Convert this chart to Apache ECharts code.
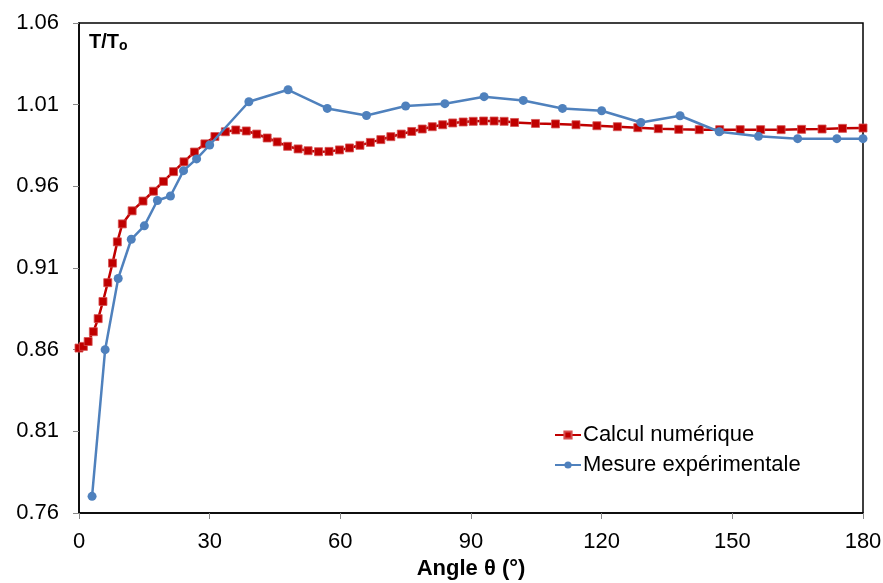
<!doctype html>
<html><head><meta charset="utf-8" />
<style>
  html,body,#app{margin:0;padding:0;width:883px;height:583px;background:#ffffff}
</style>
<script src="https://cdn.jsdelivr.net/npm/echarts@6.0.0/dist/echarts.min.js"></script>
</head><body><div id="app"></div>
<script>
// Calcul numérique : angle (°) / T/To
const calcAngles = [0, 1.0, 2.1, 3.3, 4.4, 5.5, 6.6, 7.7, 8.8, 9.95,
  12.2, 14.7, 17.1, 19.4, 21.7, 24.1, 26.5, 28.9, 31.2, 33.6, 36.0, 38.4,
  40.8, 43.2, 45.5, 47.9, 50.3, 52.6, 55.0, 57.4, 59.8, 62.1, 64.5, 66.9,
  69.3, 71.6, 74.0, 76.4, 78.8, 81.1, 83.5, 85.8, 88.2, 90.5, 92.9, 95.3,
  97.6, 100.0, 104.8, 109.4, 114.1, 118.9, 123.6, 128.3, 133.0, 137.7,
  142.4, 147.1, 151.8, 156.5, 161.2, 165.9, 170.6, 175.3, 180];
const calcValues = [0.861, 0.862, 0.865, 0.871, 0.879, 0.8895, 0.901, 0.913, 0.926, 0.937,
  0.945, 0.951, 0.957, 0.963, 0.969, 0.975, 0.981, 0.986, 0.9905, 0.9934, 0.9945, 0.9939,
  0.9920, 0.9896, 0.9872, 0.9845, 0.9829, 0.9818, 0.9812, 0.9814, 0.9823, 0.9835, 0.9851, 0.9869,
  0.9886, 0.9904, 0.9920, 0.9936, 0.9951, 0.9965, 0.9977, 0.9988, 0.9994, 0.9998, 1.0000, 1.0000,
  0.9998, 0.9991, 0.9985, 0.9982, 0.9977, 0.9971, 0.9965, 0.9959, 0.9953, 0.9949,
  0.9947, 0.9947, 0.9947, 0.9947, 0.9947, 0.9949, 0.9951, 0.9955, 0.9957];
// Mesure expérimentale
const mesAngles = [3, 6, 9, 12, 15, 18, 21, 24, 27, 30, 39, 48, 57, 66, 75, 84, 93, 102,
  111, 120, 129, 138, 147, 156, 165, 174, 180];
const mesValues = [0.7702, 0.860, 0.9036, 0.9276, 0.9358, 0.9513, 0.9541, 0.9696, 0.9768, 0.9853,
  1.0118, 1.0191, 1.0077, 1.0034, 1.0092, 1.0106, 1.0149, 1.0126, 1.0077, 1.0063, 0.9991,
  1.0032, 0.9934, 0.9906, 0.9892, 0.9892, 0.9892];
const yTicks = [0.76, 0.81, 0.86, 0.91, 0.96, 1.01, 1.06];

const pairs = (xs, ys) => xs.map((x, i) => [x, ys[i]]);
const font = "'Liberation Sans', Arial, sans-serif";

const chart = echarts.init(document.getElementById('app'));
chart.setOption({
  backgroundColor: '#ffffff',
  animation: false,
  textStyle: { fontFamily: font },
  grid: { left: 79, right: 20, top: 23, bottom: 70, outerBoundsMode: 'none',
    show: true, borderColor: '#000000', borderWidth: 1.5 },
  title: {
    text: '{a|T/T}{b|o}', left: 84, top: 27,
    textStyle: { rich: {
      a: { fontFamily: font, fontSize: 20, fontWeight: 'bold', color: '#000' },
      b: { fontFamily: font, fontSize: 14, fontWeight: 'bold', color: '#000', verticalAlign: 'bottom', padding: [7, 0, 0, 0] }
    } }
  },
  legend: {
    orient: 'vertical', left: 549, top: 419, itemGap: 8, itemWidth: 26, itemHeight: 9,
    textStyle: { fontFamily: font, fontSize: 22, color: '#000', padding: [0, 0, 0, -3] },
    data: ['Calcul numérique', 'Mesure expérimentale']
  },
  xAxis: {
    type: 'value', min: 0, max: 180, interval: 30,
    name: 'Angle θ (°)', nameLocation: 'middle', nameGap: 45,
    nameTextStyle: { fontFamily: font, fontSize: 22, fontWeight: 'bold', color: '#000' },
    axisLine: { lineStyle: { color: '#000', width: 1.5 } },
    axisTick: { show: true, length: 6, lineStyle: { color: '#888' } },
    axisLabel: { fontFamily: font, fontSize: 22, color: '#000', margin: 18 },
    splitLine: { show: false }
  },
  yAxis: {
    type: 'value', min: 0.76, max: 1.06,
    axisLine: { show: true, lineStyle: { color: '#000', width: 1.5 } },
    axisTick: { show: true, length: 6, lineStyle: { color: '#888' }, customValues: yTicks },
    axisLabel: { fontFamily: font, fontSize: 22, color: '#000', margin: 20, customValues: yTicks,
      formatter: v => Number(v).toFixed(2) },
    splitLine: { show: false }
  },
  series: [
    { name: 'Calcul numérique', type: 'line', data: pairs(calcAngles, calcValues),
      symbol: 'rect', symbolSize: 8, z: 2,
      lineStyle: { color: '#C00000', width: 2.5 },
      itemStyle: { color: '#C00000', borderColor: '#D65050', borderWidth: 0.8 } },
    { name: 'Mesure expérimentale', type: 'line', data: pairs(mesAngles, mesValues),
      symbol: 'circle', symbolSize: 9, z: 3,
      lineStyle: { color: '#4F81BD', width: 2.5 },
      itemStyle: { color: '#4F81BD', borderColor: '#4F81BD', borderWidth: 0 } }
  ]
});
</script></body></html>
